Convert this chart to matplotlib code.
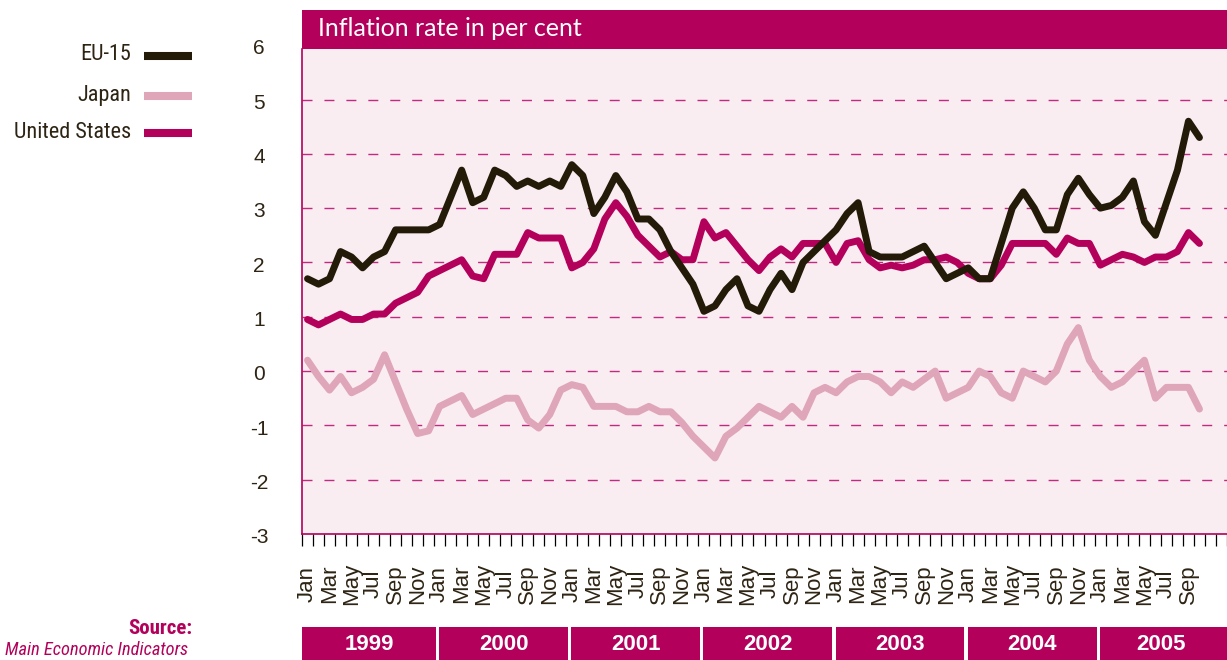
import matplotlib
matplotlib.use("Agg")
import matplotlib.pyplot as plt
from matplotlib import font_manager
from matplotlib.lines import Line2D
from matplotlib.patches import Rectangle
from matplotlib.transforms import blended_transform_factory

# monthly inflation, Jan 1999 - Oct 2005
years = ["1999", "2000", "2001", "2002", "2003", "2004", "2005"]
month_names = ["Jan", "Feb", "Mar", "Apr", "May", "Jun",
               "Jul", "Aug", "Sep", "Oct", "Nov", "Dec"]

eu15 = [1.7, 1.6, 1.7, 2.2, 2.1, 1.9, 2.1, 2.2, 2.6, 2.6, 2.6, 2.6,
        2.7, 3.2, 3.7, 3.1, 3.2, 3.7, 3.6, 3.4, 3.5, 3.4, 3.5, 3.4,
        3.8, 3.6, 2.9, 3.2, 3.6, 3.3, 2.8, 2.8, 2.6, 2.2, 1.9, 1.6,
        1.1, 1.2, 1.5, 1.7, 1.2, 1.1, 1.5, 1.8, 1.5, 2.0, 2.2, 2.4,
        2.6, 2.9, 3.1, 2.2, 2.1, 2.1, 2.1, 2.2, 2.3, 2.0, 1.7, 1.8,
        1.9, 1.7, 1.7, 2.35, 3.0, 3.3, 3.0, 2.6, 2.6, 3.25, 3.55, 3.25,
        3.0, 3.05, 3.2, 3.5, 2.75, 2.5, 3.1, 3.7, 4.6, 4.3]

japan = [0.2, -0.1, -0.35, -0.1, -0.4, -0.3, -0.15, 0.3, -0.2, -0.7, -1.15, -1.1,
         -0.65, -0.55, -0.45, -0.8, -0.7, -0.6, -0.5, -0.5, -0.9, -1.05, -0.8, -0.35,
         -0.25, -0.3, -0.65, -0.65, -0.65, -0.75, -0.75, -0.65, -0.75, -0.75, -0.95, -1.2,
         -1.4, -1.6, -1.2, -1.05, -0.85, -0.65, -0.75, -0.85, -0.65, -0.85, -0.4, -0.3,
         -0.4, -0.2, -0.1, -0.1, -0.2, -0.4, -0.2, -0.3, -0.15, 0.0, -0.5, -0.4,
         -0.3, 0.0, -0.1, -0.4, -0.5, 0.0, -0.1, -0.2, 0.0, 0.5, 0.8, 0.2,
         -0.1, -0.3, -0.2, 0.0, 0.2, -0.5, -0.3, -0.3, -0.3, -0.7]

us = [0.95, 0.85, 0.95, 1.05, 0.95, 0.95, 1.05, 1.05, 1.25, 1.35, 1.45, 1.75,
      1.85, 1.95, 2.05, 1.75, 1.7, 2.15, 2.15, 2.15, 2.55, 2.45, 2.45, 2.45,
      1.9, 2.0, 2.25, 2.8, 3.1, 2.85, 2.5, 2.3, 2.1, 2.2, 2.05, 2.05,
      2.75, 2.45, 2.55, 2.3, 2.05, 1.85, 2.1, 2.25, 2.1, 2.35, 2.35, 2.35,
      2.0, 2.35, 2.4, 2.05, 1.9, 1.95, 1.9, 1.95, 2.05, 2.05, 2.1, 2.0,
      1.8, 1.7, 1.7, 1.95, 2.35, 2.35, 2.35, 2.35, 2.15, 2.45, 2.35, 2.35,
      1.95, 2.05, 2.15, 2.1, 2.0, 2.1, 2.1, 2.2, 2.55, 2.35]

y_ticks = [6, 5, 4, 3, 2, 1, 0, -1, -2, -3]
grid_levels = [5, 4, 3, 2, 1, 0, -1, -2]

MAGENTA = "#B3005B"
PINK = "#DFA5B8"
DARK = "#241A08"
TEXT = "#2E2414"
BG = "#F9EDF2"

installed = {f.name for f in font_manager.fontManager.ttflist}
narrow = next((n for n in ["Liberation Sans Narrow", "Roboto Condensed"]
               if n in installed), "Liberation Sans")
plain = "Liberation Sans"
title_font = "Lato" if "Lato" in installed else plain

W, H = 1227, 660
fig = plt.figure(figsize=(W / 100, H / 100), dpi=100)


def fx(px):
    return px / W


def fy(py):
    return 1 - py / H


ax = fig.add_axes([fx(302), fy(534), fx(925), 485 / H])
ax.set_facecolor(BG)
ax.set_xlim(0, 83.5)
ax.set_ylim(-3, 5.93)

x = [i + 0.5 for i in range(len(eu15))]

for lvl in grid_levels:
    ax.axhline(lvl, color="#C4287F", lw=1.0, linestyle=(0, (7.2, 8.6)), zorder=1)

line_kw = dict(lw=5, solid_joinstyle="round", solid_capstyle="round", zorder=3)
ax.plot(x, japan, color=PINK, **line_kw)
ax.plot(x, us, color=MAGENTA, **line_kw)
ax.plot(x, eu15, color=DARK, **line_kw)

for side in ["top", "right"]:
    ax.spines[side].set_visible(False)
for side in ["left", "bottom"]:
    ax.spines[side].set_color(MAGENTA)
    ax.spines[side].set_linewidth(1.2)

# month boundary ticks below the axis
ax.set_xticks(range(0, 85), minor=True)
ax.set_xticks([])
ax.set_yticks([])
ax.tick_params(axis="x", which="minor", length=8.6, width=0.9, direction="out")
for k, t in enumerate(ax.xaxis.get_minor_ticks()):
    t.tick1line.set_color(MAGENTA if k % 2 == 0 else "#D887AE")

# month labels (every other month)
tr_x = blended_transform_factory(ax.transData, ax.transAxes)
for i in range(0, len(eu15), 2):
    ax.text(i + 0.5, -50 / 485, month_names[i % 12], transform=tr_x,
            rotation=90, ha="center", va="center", fontsize=16,
            family=plain, color=TEXT, clip_on=False)

# y labels
tr_y = blended_transform_factory(ax.transAxes, ax.transData)
for v in y_ticks:
    ax.text(-43 / 925, v - 0.07, str(v), transform=tr_y, ha="center",
            va="center", fontsize=15, family=plain, color=TEXT, clip_on=False)

# title bar
fig.add_artist(Rectangle((fx(302), fy(49)), fx(925), 39 / H,
                         transform=fig.transFigure, color=MAGENTA, lw=0))
fig.text(fx(318), fy(29), "Inflation rate in per cent", color="white",
         fontsize=18, family=title_font, fontweight="normal",
         ha="left", va="center")

# year bars
tr_year = blended_transform_factory(ax.transData, fig.transFigure)
for k, yr in enumerate(years):
    x0 = 0 if k == 0 else 12 * k + 0.45
    x1 = 12 * k + 12.15
    fig.add_artist(Rectangle((x0, fy(660)), x1 - x0, 33 / H,
                             transform=tr_year, color=MAGENTA, lw=0,
                             clip_on=False))
    xc = (x0 + min(x1, 83.5)) / 2
    fig.text(xc, fy(645), yr, transform=tr_year, ha="center", va="center",
             fontsize=16, fontweight="bold", family=plain, color="white")

# legend
legend = [("EU-15", DARK, 56), ("Japan", PINK, 96), ("United States", MAGENTA, 133)]
for name, col, py in legend:
    fig.add_artist(Line2D([fx(144), fx(192)], [fy(py), fy(py)],
                          transform=fig.transFigure, color=col, lw=5.8,
                          solid_capstyle="butt"))
    fig.text(fx(131), fy(py - 1), name, ha="right", va="center",
             fontsize=16, family=narrow, color=TEXT)

# source
fig.text(fx(192), fy(628), "Source:", ha="right", va="center", fontsize=15,
         fontweight="bold", family=narrow, color=MAGENTA)
fig.text(fx(188), fy(650), "Main Economic Indicators", ha="right",
         va="center", fontsize=13.2, style="italic", family=narrow,
         color=MAGENTA)

fig.savefig("out.png", dpi=100)
plt.close(fig)
